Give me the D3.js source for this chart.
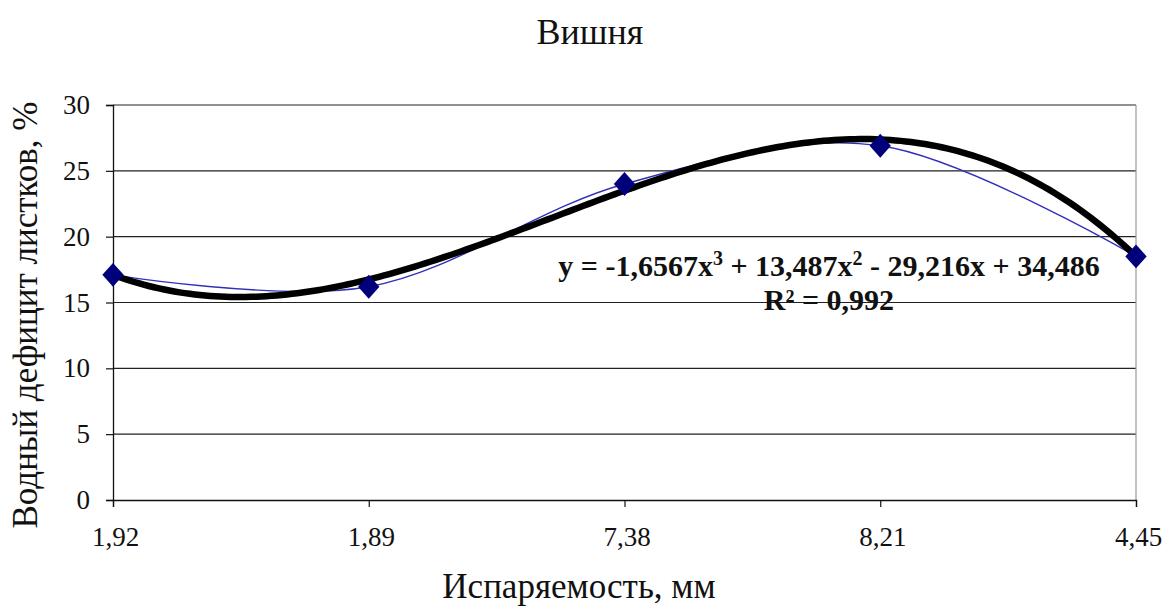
<!DOCTYPE html>
<html>
<head>
<meta charset="utf-8">
<script src="https://cdn.jsdelivr.net/npm/d3@7"></script>
</head>
<body style="margin:0; background:#fff">
<svg></svg>
<script>
const width = 1166
const height = 610
const margin = { top: 105, bottom: 110, left: 113, right: 30 }
const serif = "'Liberation Serif'"

// categories and measured values
const categories = ['1,92', '1,89', '7,38', '8,21', '4,45']
const values = [17.1, 16.2, 24.0, 26.9, 18.5]
const yTicks = [0, 5, 10, 15, 20, 25, 30]
// polynomial trendline coefficients shown on the chart (x = 1..5)
const trendCoef = [-1.6567, 13.487, -29.216, 34.486]
const trendLabel = ['y = -1,6567x', '3', ' + 13,487x', '2', ' - 29,216x + 34,486']

const svg = d3.select('svg').attr('width', width).attr('height', height)

/** scales */
const xScale = d3.scalePoint()
  .domain(categories)
  .range([margin.left, width - margin.right])
const yScale = d3.scaleLinear()
  .domain([0, 30])
  .range([height - margin.bottom, margin.top])

/** grid lines */
svg.append('g')
  .selectAll('line')
  .data(yTicks.slice(1))
  .enter()
  .append('line')
  .attr('x1', margin.left)
  .attr('x2', width - margin.right)
  .attr('y1', d => yScale(d))
  .attr('y2', d => yScale(d))
  .attr('stroke', '#222')
  .attr('stroke-width', 1.2)

// right border of the plot area
svg.append('line')
  .attr('x1', width - margin.right).attr('x2', width - margin.right)
  .attr('y1', yScale(30)).attr('y2', yScale(0))
  .attr('stroke', '#999').attr('stroke-width', 1.2)

/** axes */
const yAxis = d3.axisLeft(yScale).tickValues(yTicks).tickSize(7).tickPadding(16)
const xAxis = d3.axisBottom(xScale).tickSize(7).tickPadding(20)

const gy = svg.append('g')
  .attr('transform', `translate(${margin.left},0)`)
  .call(yAxis)
gy.select('.domain').attr('stroke', '#111').attr('stroke-width', 1.3)
gy.selectAll('.tick line').attr('stroke', '#111').attr('stroke-width', 1.2)
gy.selectAll('.tick text')
  .style('font-family', serif).style('font-size', '27px').attr('fill', '#111')

const gx = svg.append('g')
  .attr('transform', `translate(0,${height - margin.bottom})`)
  .call(xAxis)
gx.select('.domain').attr('stroke', '#111').attr('stroke-width', 1.3)
gx.selectAll('.tick line').attr('stroke', '#111').attr('stroke-width', 1.2)
gx.selectAll('.tick text')
  .style('font-family', serif).style('font-size', '27px').attr('fill', '#111')
  .attr('dx', 2)

/** thin smoothed data line */
const line = d3.line()
  .x((d, i) => xScale(categories[i]))
  .y(d => yScale(d))
  .curve(d3.curveCatmullRom.alpha(0))
svg.append('path')
  .datum(values)
  .attr('d', line)
  .attr('fill', 'none')
  .attr('stroke', '#3030b8')
  .attr('stroke-width', 1.4)

/** trendline */
const poly = x => ((trendCoef[0] * x + trendCoef[1]) * x + trendCoef[2]) * x + trendCoef[3]
const tScale = d3.scaleLinear().domain([1, categories.length]).range(xScale.range())
const trendPts = d3.range(1, categories.length + 0.001, 0.02)
svg.append('path')
  .datum(trendPts)
  .attr('d', d3.line().x(d => tScale(d)).y(d => yScale(poly(d))))
  .attr('fill', 'none')
  .attr('stroke', '#000')
  .attr('stroke-width', 6.5)
  .attr('stroke-linecap', 'round')

/** diamond markers */
svg.append('g')
  .selectAll('path')
  .data(values)
  .enter()
  .append('path')
  .attr('d', d3.symbol(d3.symbolDiamond2, 290))
  .attr('transform', (d, i) => `translate(${xScale(categories[i])},${yScale(d)}) scale(1,1.12)`)
  .attr('fill', '#00007a')

/** equation */
const eq = svg.append('text')
  .attr('x', 829).attr('y', 276)
  .attr('text-anchor', 'middle')
  .style('font-family', serif)
  .style('font-size', '30px')
  .style('font-weight', 'bold')
  .attr('fill', '#111')
trendLabel.forEach((t, i) => {
  const sup = i % 2 === 1
  eq.append('tspan')
    .attr('dy', sup ? -11 : (i > 0 ? 11 : 0))
    .style('font-size', sup ? '20px' : '30px')
    .text(t)
})
svg.append('text')
  .attr('x', 829).attr('y', 310)
  .attr('text-anchor', 'middle')
  .style('font-family', serif)
  .style('font-size', '30px')
  .style('font-weight', 'bold')
  .attr('fill', '#111')
  .text('R² = 0,992')

/** titles */
svg.append('text')
  .attr('x', 590).attr('y', 44)
  .attr('text-anchor', 'middle')
  .style('font-family', serif)
  .style('font-size', '36px')
  .attr('fill', '#111')
  .text('Вишня')

svg.append('text')
  .attr('x', 579).attr('y', 598)
  .attr('text-anchor', 'middle')
  .style('font-family', serif)
  .style('font-size', '35px')
  .attr('fill', '#111')
  .text('Испаряемость, мм')

svg.append('text')
  .attr('transform', 'translate(37,315) rotate(-90)')
  .attr('text-anchor', 'middle')
  .style('font-family', serif)
  .style('font-size', '35px')
  .attr('fill', '#111')
  .text('Водный дефицит листков, %')
</script>
</body>
</html>
